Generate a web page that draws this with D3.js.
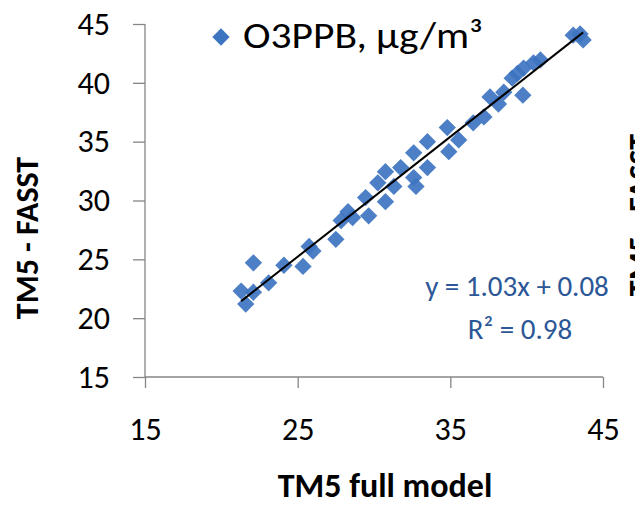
<!DOCTYPE html>
<html>
<head>
<meta charset="utf-8">
<script src="https://cdn.jsdelivr.net/npm/d3@7"></script>
<style>
  html, body { margin: 0; padding: 0; background: #fff; }
  svg { display: block; }
  text { font-family: Carlito, Calibri, Lato, "Open Sans", sans-serif; }
</style>
</head>
<body>
<svg id="chart" width="635" height="506"></svg>
<script>
// ---- data ----
const tm5Full = [21.3, 22.1, 21.6, 22.1, 23.1, 24.1, 25.35, 25.75, 26.0, 27.5, 27.85, 28.3, 28.6, 29.65, 29.45, 30.75, 30.75, 30.25, 31.3, 31.75, 32.6, 32.6, 32.75, 33.5, 33.5, 34.8, 34.9, 35.55, 36.5, 37.2, 37.6, 38.15, 38.5, 39.05, 39.4, 39.75, 39.8, 40.45, 40.9, 43.05, 43.7, 43.5];
const tm5Fasst = [22.3, 22.2, 21.2, 24.7, 23.0, 24.5, 24.4, 26.1, 25.7, 26.7, 28.3, 29.05, 28.55, 28.7, 30.25, 29.9, 32.45, 31.5, 31.2, 32.8, 34.05, 31.95, 31.2, 35.0, 32.8, 36.2, 34.15, 35.15, 36.6, 37.1, 38.8, 38.2, 39.2, 40.4, 40.8, 38.95, 41.25, 41.7, 41.95, 44.05, 43.65, 44.15];
const xTicks = [15, 25, 35, 45];
const yTicks = [15, 20, 25, 30, 35, 40, 45];
const seriesName = "O3PPB, µg/m³";
const equationText = "y = 1.03x + 0.08";
const r2Text = "R² = 0.98";
const xTitle = "TM5 full model";
const yTitle = "TM5 - FASST";

const points = tm5Full.map((x, i) => ({ x, y: tm5Fasst[i] }));

const svg = d3.select("#chart");
const x = d3.scaleLinear().domain([15, 45]).range([145, 603]);
const y = d3.scaleLinear().domain([15, 45]).range([377, 24]);

const axisColor = "#868686";
const markerColor = "#3D74C0";
const fontStack = 'Carlito, Calibri, Lato, "Open Sans", sans-serif';

// axes
const xAxis = svg.append("g").attr("transform", `translate(0,${y(15)})`)
  .call(d3.axisBottom(x).tickValues(xTicks).tickSize(11).tickPadding(29).tickFormat(d3.format("d")));
const yAxis = svg.append("g").attr("transform", `translate(${x(15)},0)`)
  .call(d3.axisLeft(y).tickValues(yTicks).tickSize(12).tickPadding(23).tickFormat(d3.format("d")));
[xAxis, yAxis].forEach(g => {
  g.select(".domain").attr("stroke", axisColor).attr("stroke-width", 1.3);
  g.selectAll(".tick line").attr("stroke", axisColor).attr("stroke-width", 1.3);
  g.selectAll(".tick text").attr("fill", "#000").style("font-size", "32px")
    .style("font-family", fontStack);
});
xAxis.select(".domain").attr("d", `M${x(15)},0H${x(45)}`);
yAxis.select(".domain").attr("d", `M0,${y(45)}V${y(15)}`);

// points (diamonds)
const diamond = d3.symbol().type(d3.symbolSquare).size(150);
svg.append("g").selectAll("path").data(points).join("path")
  .attr("d", diamond)
  .attr("transform", d => `translate(${x(d.x)},${y(d.y)}) rotate(45)`)
  .attr("fill", markerColor)
  .attr("fill-opacity", 0.92);

// linear trendline from data
const mx = d3.mean(points, d => d.x), my = d3.mean(points, d => d.y);
const slope = d3.sum(points, d => (d.x - mx) * (d.y - my)) / d3.sum(points, d => (d.x - mx) ** 2);
const icpt = my - slope * mx;
const [x0, x1] = d3.extent(points, d => d.x);
svg.append("line")
  .attr("x1", x(x0)).attr("y1", y(slope * x0 + icpt))
  .attr("x2", x(x1)).attr("y2", y(slope * x1 + icpt))
  .attr("stroke", "#000").attr("stroke-width", 2);

// legend
svg.append("path").attr("d", diamond)
  .attr("transform", "translate(221,37) rotate(45)")
  .attr("fill", markerColor);
svg.append("text").attr("x", 243).attr("y", 48)
  .attr("textLength", 240).attr("lengthAdjust", "spacingAndGlyphs")
  .style("font-size", "36px").attr("fill", "#000").text(seriesName);

// equation
const eq = svg.append("text").attr("text-anchor", "middle").attr("fill", "#2B5797")
  .style("font-size", "29px");
eq.append("tspan").attr("x", 517).attr("y", 296).text(equationText);
eq.append("tspan").attr("x", 520).attr("y", 339).text(r2Text);

// axis titles
svg.append("text").attr("x", 385).attr("y", 497).attr("text-anchor", "middle")
  .style("font-size", "34px").style("font-weight", "bold").text(xTitle);
svg.append("text").attr("transform", "translate(38,238) rotate(-90)").attr("text-anchor", "middle")
  .style("font-size", "32px").style("font-weight", "bold").text(yTitle);
// partially visible neighbouring chart title at the right edge
svg.append("text").attr("transform", "translate(651,215) rotate(-90)").attr("text-anchor", "middle")
  .style("font-size", "32px").style("font-weight", "bold").text(yTitle);
</script>
</body>
</html>
